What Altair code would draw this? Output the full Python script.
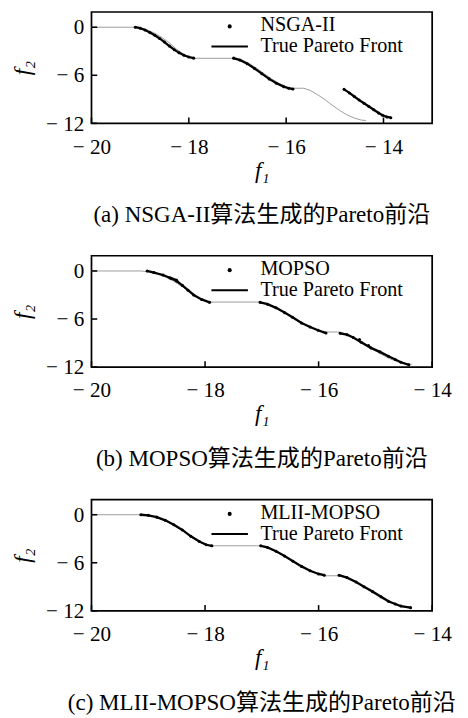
import altair as alt
import pandas as pd

# ---------------- data ----------------
TRUE_X = [-20.0, -19.13, -19.0, -18.85, -18.7, -18.55, -18.4, -18.25, -18.1, -18.0, -17.92,
          -17.03, -16.9, -16.75, -16.6, -16.45, -16.3, -16.15, -16.0, -15.9,
          -15.64, -15.5, -15.35, -15.2, -15.05, -14.9, -14.75, -14.6, -14.45, -14.36]
TRUE_Y = [0.0, 0.0, -0.1, -0.35, -0.75, -1.3, -1.95, -2.75, -3.4, -3.75, -3.88,
          -3.88, -4.1, -4.55, -5.15, -5.8, -6.45, -7.0, -7.42, -7.62,
          -7.62, -7.9, -8.45, -9.05, -9.75, -10.4, -10.95, -11.35, -11.6, -11.65]

NSGA_X = [-19.1, -19.0, -18.9, -18.8, -18.7, -18.6, -18.5, -18.4, -18.3, -18.2, -18.1, -18.0, -17.9,
          -17.08, -16.95, -16.8, -16.65, -16.5, -16.35, -16.2, -16.05, -15.95, -15.86,
          -14.81, -14.7, -14.6, -14.5, -14.4, -14.3, -14.2, -14.1, -14.02, -13.93, -13.85]
NSGA_Y = [0.0, -0.12, -0.35, -0.65, -1.0, -1.4, -1.85, -2.35, -2.8, -3.2, -3.5, -3.72, -3.86,
          -3.86, -4.1, -4.55, -5.15, -5.8, -6.45, -7.0, -7.42, -7.62, -7.72,
          -7.76, -8.2, -8.65, -9.1, -9.5, -9.9, -10.3, -10.7, -11.0, -11.2, -11.3]
NSGA_SEG = [1, 1, 1, 1, 1, 1, 1, 1, 1, 1, 1, 1, 1,
            2, 2, 2, 2, 2, 2, 2, 2, 2, 2,
            3, 3, 3, 3, 3, 3, 3, 3, 3, 3, 3]

MOPSO_X = [-19.02, -18.9, -18.74, -18.6, -18.5, -18.4, -18.3, -18.2, -18.06, -17.92,
           -18.62, -18.5,
           -17.03, -16.9, -16.75, -16.6, -16.46, -16.3, -16.15, -16.01, -15.87,
           -15.62, -15.5, -15.39, -15.25, -15.08, -14.92, -14.77, -14.65, -14.55, -14.41,
           -15.28, -15.12]
MOPSO_Y = [0.0, -0.2, -0.5, -0.9, -1.25, -1.8, -2.4, -3.0, -3.55, -3.92,
           -0.85, -1.15,
           -3.92, -4.15, -4.6, -5.2, -5.78, -6.5, -7.0, -7.4, -7.75,
           -7.78, -7.95, -8.3, -8.9, -9.6, -10.1, -10.65, -11.05, -11.4, -11.72,
           -8.55, -9.3]
MOPSO_SEG = [1, 1, 1, 1, 1, 1, 1, 1, 1, 1,
             4, 4,
             2, 2, 2, 2, 2, 2, 2, 2, 2,
             3, 3, 3, 3, 3, 3, 3, 3, 3, 3,
             5, 6]

MLII_X = [-19.13, -19.0, -18.85, -18.7, -18.55, -18.4, -18.25, -18.1, -17.98, -17.88,
          -17.02, -16.9, -16.75, -16.6, -16.45, -16.3, -16.15, -16.0, -15.9,
          -15.64, -15.5, -15.34, -15.2, -15.05, -14.9, -14.77, -14.65, -14.55, -14.38]
MLII_Y = [0.0, -0.08, -0.3, -0.7, -1.25, -1.9, -2.7, -3.35, -3.75, -3.88,
          -3.88, -4.08, -4.55, -5.15, -5.8, -6.45, -7.0, -7.4, -7.55,
          -7.55, -7.85, -8.4, -9.0, -9.6, -10.25, -10.8, -11.15, -11.4, -11.6]
MLII_SEG = [1, 1, 1, 1, 1, 1, 1, 1, 1, 1,
            2, 2, 2, 2, 2, 2, 2, 2, 2,
            3, 3, 3, 3, 3, 3, 3, 3, 3, 3]

ALG_NAMES = ["NSGA-II", "MOPSO", "MLII-MOPSO"]
FRONT_LABEL = "True Pareto Front"
CAPTIONS = ["(a)  NSGA-II算法生成的Pareto前沿",
            "(b)  MOPSO算法生成的Pareto前沿",
            "(c)  MLII-MOPSO算法生成的Pareto前沿"]
X_DOMAINS = [[-20, -13], [-20, -14], [-20, -14]]
X_TICKS = [-20, -18, -16, -14]
Y_TICKS = [0, -6, -12]
Y_DOMAIN = [-12, 1.9]

# ---------------- styling ----------------
W, H = 355, 116
FONT = "Liberation Serif, Times New Roman, Noto Sans CJK SC"
LABEL_EXPR = "datum.value < 0 ? '\u2212 ' + format(-datum.value, 'd') : format(datum.value, 'd')"


def panel(name, ax, ay, aseg, xdom, caption):
    xs = alt.Scale(domain=xdom, nice=False, zero=False)
    ys = alt.Scale(domain=Y_DOMAIN, nice=False, zero=False)
    xaxis = alt.Axis(values=X_TICKS, title="f\u2081", labelExpr=LABEL_EXPR, ticks=False, domain=False,
                     grid=False, labelFont=FONT, labelFontSize=22, labelColor="black", labelPadding=14,
                     titleFont=FONT, titleFontSize=24, titleFontStyle="italic", titleFontWeight="normal",
                     titleColor="black", titlePadding=2, labelFlush=False)
    yaxis = alt.Axis(values=Y_TICKS, title="f\u2082", labelExpr=LABEL_EXPR, ticks=False, domain=False,
                     grid=False, labelFont=FONT, labelFontSize=22, labelColor="black", labelPadding=8,
                     titleFont=FONT, titleFontSize=24, titleFontStyle="italic", titleFontWeight="normal",
                     titleColor="black", titlePadding=12, labelFlush=False)
    X = lambda: alt.X("x:Q", scale=xs, axis=xaxis)
    Y = lambda: alt.Y("y:Q", scale=ys, axis=yaxis)

    front = pd.DataFrame({"x": TRUE_X, "y": TRUE_Y})
    alg = pd.DataFrame({"x": ax, "y": ay, "seg": aseg})

    front_line = alt.Chart(front).mark_line(color="#9a9a9a", strokeWidth=1).encode(x=X(), y=Y())
    alg_line = alt.Chart(alg).mark_line(color="black", strokeWidth=2.4).encode(x=X(), y=Y(), detail="seg:N")
    alg_pts = alt.Chart(alg).mark_circle(color="black", size=10, opacity=1).encode(x=X(), y=Y())

    xt = alt.Chart(pd.DataFrame({"x": X_TICKS})).mark_rule(color="black", strokeWidth=1.6).encode(
        x=X(), y=alt.value(H), y2=alt.value(H - 6))
    yt = alt.Chart(pd.DataFrame({"y": Y_TICKS})).mark_rule(color="black", strokeWidth=1.6).encode(
        y=Y(), x=alt.value(0), x2=alt.value(6))

    leg = pd.DataFrame({"label": [name], "front": [FRONT_LABEL]})
    leg_dot = alt.Chart(leg).mark_circle(color="black", size=18, opacity=1).encode(
        x=alt.value(144), y=alt.value(15))
    leg_line = alt.Chart(leg).mark_rule(color="black", strokeWidth=2).encode(
        x=alt.value(125), x2=alt.value(163), y=alt.value(36))
    leg_t1 = alt.Chart(leg).mark_text(align="left", baseline="middle", font=FONT, fontSize=21,
                                      color="black").encode(x=alt.value(176), y=alt.value(14), text="label:N")
    leg_t2 = alt.Chart(leg).mark_text(align="left", baseline="middle", font=FONT, fontSize=21,
                                      color="black").encode(x=alt.value(176), y=alt.value(36), text="front:N")

    return alt.layer(front_line, alg_line, alg_pts, xt, yt, leg_dot, leg_line, leg_t1, leg_t2).properties(
        width=W, height=H,
        title=alt.TitleParams(caption, orient="bottom", font=FONT, fontSize=24, fontWeight="normal",
                              color="black", anchor="middle", offset=23))


charts = [
    panel(ALG_NAMES[0], NSGA_X, NSGA_Y, NSGA_SEG, X_DOMAINS[0], CAPTIONS[0]),
    panel(ALG_NAMES[1], MOPSO_X, MOPSO_Y, MOPSO_SEG, X_DOMAINS[1], CAPTIONS[1]),
    panel(ALG_NAMES[2], MLII_X, MLII_Y, MLII_SEG, X_DOMAINS[2], CAPTIONS[2]),
]

chart = alt.vconcat(*charts, spacing=28).properties(
    padding={"left": 2, "top": -12, "right": 0, "bottom": 0},
    background="white",
).configure_view(stroke="black", strokeWidth=1.8)

chart.save("out.html", embed_options={"renderer": "svg", "actions": False})
